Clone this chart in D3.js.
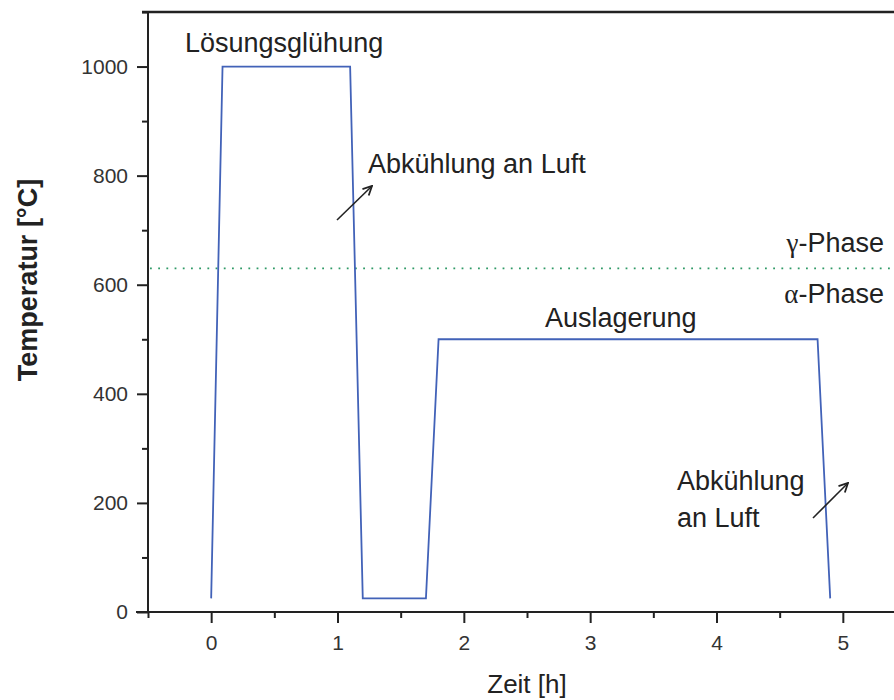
<!DOCTYPE html>
<html>
<head>
<meta charset="utf-8">
<script src="https://cdn.jsdelivr.net/npm/d3@7"></script>
<style>
  html, body { margin: 0; padding: 0; background: #fff; }
  svg { display: block; font-family: "Liberation Sans", Arial, sans-serif; }
</style>
</head>
<body>
<svg id="chart" width="894" height="700"></svg>
<script>
// ---- data ----
const timeH  = [0, 0.09, 1.1, 1.2, 1.7, 1.8, 4.8, 4.9];
const tempC  = [25, 1000, 1000, 25, 25, 500, 500, 25];
const phaseBoundary = 630;
const xTicks = [0, 1, 2, 3, 4, 5];
const xMinorTicks = [-0.5, 0.5, 1.5, 2.5, 3.5, 4.5, 5.5];
const yTicks = [0, 200, 400, 600, 800, 1000];
const yMinorTicks = [100, 300, 500, 700, 900, 1100];

const svg = d3.select("#chart");
const x = d3.scaleLinear().domain([-0.5, 5.5]).range([148, 906]);
const y = d3.scaleLinear().domain([0, 1100]).range([612, 12]);
const ink = "#222";

// minor ticks
const gxm = svg.append("g").attr("transform", `translate(0,${y(0)})`)
  .call(d3.axisBottom(x).tickValues(xMinorTicks).tickSize(6).tickFormat(""));
const gym = svg.append("g").attr("transform", `translate(${x(-0.5)},0)`)
  .call(d3.axisLeft(y).tickValues(yMinorTicks).tickSize(6).tickFormat(""));
[gxm, gym].forEach(g => {
  g.select(".domain").remove();
  g.selectAll(".tick line").attr("stroke", ink).attr("stroke-width", 2);
});

// major axes
const gx = svg.append("g").attr("transform", `translate(0,${y(0)})`)
  .call(d3.axisBottom(x).tickValues(xTicks).tickSize(11).tickSizeOuter(0).tickPadding(12).tickFormat(d3.format("d")));
const gy = svg.append("g").attr("transform", `translate(${x(-0.5)},0)`)
  .call(d3.axisLeft(y).tickValues(yTicks).tickSize(11).tickSizeOuter(0).tickPadding(9).tickFormat(d3.format("d")));
[gx, gy].forEach(g => {
  g.select(".domain").attr("stroke", ink).attr("stroke-width", 2);
  g.selectAll(".tick line").attr("stroke", ink).attr("stroke-width", 2);
  g.selectAll(".tick text").attr("fill", "#333").attr("font-size", 21)
    .attr("font-family", "'Liberation Sans', Arial, sans-serif");
});
gx.select(".domain").attr("d", `M${x(-0.5) - 12},0H${x(5.5)}`);
gy.select(".domain").attr("d", `M0,${y(0)}V${y(1100)}`);

// top border
svg.append("line")
  .attr("x1", x(-0.5) - 6).attr("x2", x(5.5))
  .attr("y1", y(1100)).attr("y2", y(1100))
  .attr("stroke", ink).attr("stroke-width", 2.4);

// phase boundary (dotted)
svg.append("line")
  .attr("x1", x(-0.5) + 2).attr("x2", x(5.5))
  .attr("y1", y(phaseBoundary)).attr("y2", y(phaseBoundary))
  .attr("stroke", "#2f9a66").attr("stroke-width", 1.8)
  .attr("stroke-dasharray", "1.8,6.4");

// temperature profile
const pts = timeH.map((t, i) => [t, tempC[i]]);
svg.append("path")
  .attr("d", d3.line().x(d => x(d[0])).y(d => y(d[1]))(pts))
  .attr("fill", "none").attr("stroke", "#4262b8").attr("stroke-width", 1.8);

// annotations
const ann = svg.append("g").attr("fill", ink).attr("font-size", 27);
ann.append("text").attr("x", 185).attr("y", 52).text("Lösungsglühung");
ann.append("text").attr("x", 368).attr("y", 173).text("Abkühlung an Luft");
ann.append("text").attr("x", 545).attr("y", 327).text("Auslagerung");
ann.append("text").attr("x", 677).attr("y", 490).text("Abkühlung");
ann.append("text").attr("x", 677).attr("y", 527).text("an Luft");

const g1 = ann.append("text").attr("x", 884).attr("y", 252).attr("text-anchor", "end");
g1.append("tspan").attr("font-family", "'Liberation Serif', 'DejaVu Serif', serif").text("γ");
g1.append("tspan").text("-Phase");
const g2 = ann.append("text").attr("x", 884).attr("y", 303).attr("text-anchor", "end");
g2.append("tspan").attr("font-family", "'Liberation Serif', 'DejaVu Serif', serif").text("α");
g2.append("tspan").text("-Phase");

// arrows
svg.append("defs").append("marker")
  .attr("id", "ah").attr("viewBox", "0 0 10 10").attr("refX", 9).attr("refY", 5)
  .attr("markerWidth", 7).attr("markerHeight", 7).attr("orient", "auto")
  .append("path").attr("d", "M1,1L9,5L1,9").attr("fill", "none").attr("stroke", ink).attr("stroke-width", 1.6);
const arrows = [[337, 220, 372, 186], [813, 518, 848, 483]];
svg.selectAll("line.arrow").data(arrows).enter().append("line")
  .attr("class", "arrow")
  .attr("x1", d => d[0]).attr("y1", d => d[1]).attr("x2", d => d[2]).attr("y2", d => d[3])
  .attr("stroke", ink).attr("stroke-width", 1.6).attr("marker-end", "url(#ah)");

// axis titles
svg.append("text").attr("x", 527).attr("y", 693).attr("text-anchor", "middle")
  .attr("fill", ink).attr("font-size", 26).text("Zeit [h]");
svg.append("text").attr("transform", "translate(37,280) rotate(-90)").attr("text-anchor", "middle")
  .attr("fill", ink).attr("font-size", 27).attr("font-weight", "bold").text("Temperatur [°C]");
</script>
</body>
</html>
